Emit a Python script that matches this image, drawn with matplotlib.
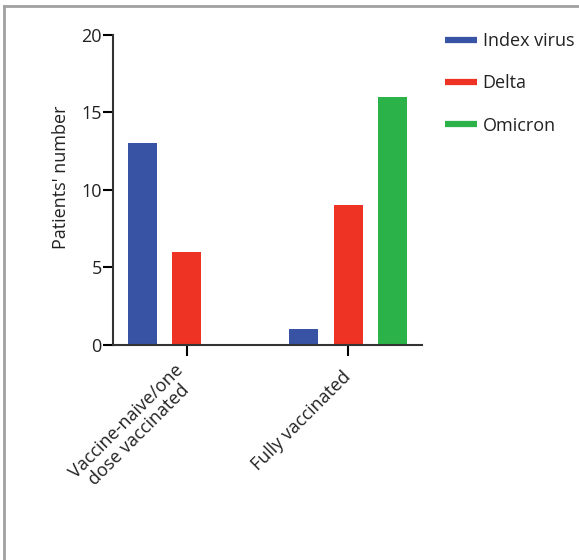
import matplotlib.pyplot as plt
from matplotlib.lines import Line2D

plt.rcParams['font.family'] = ['Open Sans', 'DejaVu Sans']

groups = ['Vaccine-naive/one\ndose vaccinated', 'Fully vaccinated']
variants = ['Index virus', 'Delta', 'Omicron']
index_virus = [13, 1]
delta = [6, 9]
omicron = [0, 16]
colors = ['#3953a4', '#ee3224', '#2bb34a']

fs = 13

fig = plt.figure(figsize=(5.79, 5.60), dpi=100)
ax = fig.add_axes([0.195, 0.384, 0.534, 0.5535])

slot = 0.276
width = 0.18
for i, (vals, col) in enumerate(zip([index_virus, delta, omicron], colors)):
    xs = [g + (i - 1) * slot for g in range(len(groups))]
    ax.bar(xs, vals, width=width, color=col, edgecolor='none')

ax.set_xlim(-0.46, 1.46)
ax.set_ylim(0, 20)
ax.set_yticks([0, 5, 10, 15, 20])
ax.set_xticks(range(len(groups)))
ax.set_xticklabels(groups, rotation=45, ha='right', va='center',
                   rotation_mode='anchor', multialignment='center',
                   fontsize=fs, linespacing=1.0)
ax.tick_params(axis='y', labelsize=fs, length=7, width=1.5, pad=1,
               labelcolor='#222222')
ax.tick_params(axis='x', length=8, width=1.5, pad=13, labelcolor='#222222')
for s in ['top', 'right']:
    ax.spines[s].set_visible(False)
for s in ['left', 'bottom']:
    ax.spines[s].set_linewidth(1.5)
    ax.spines[s].set_color('#333333')

ax.set_ylabel("Patients' number", fontsize=fs, color='#222222')
ax.yaxis.set_label_coords(-0.14, 0.54)

handles = [Line2D([0], [0], color=c, lw=4.5, solid_capstyle='butt') for c in colors]
leg = fig.legend(handles, variants, loc='upper left', bbox_to_anchor=(0.74, 0.972),
                 frameon=False, fontsize=fs, handlelength=1.8, handletextpad=0.3,
                 labelspacing=1.35)
for t in leg.get_texts():
    t.set_color('#222222')

# thin grey frame along top and left edges
fig.add_artist(Line2D([0.007, 0.007], [0, 0.989], color='#a0a0a0', lw=2))
fig.add_artist(Line2D([0.007, 1.0], [0.989, 0.989], color='#a0a0a0', lw=2))

fig.savefig('out.png', dpi=100)
